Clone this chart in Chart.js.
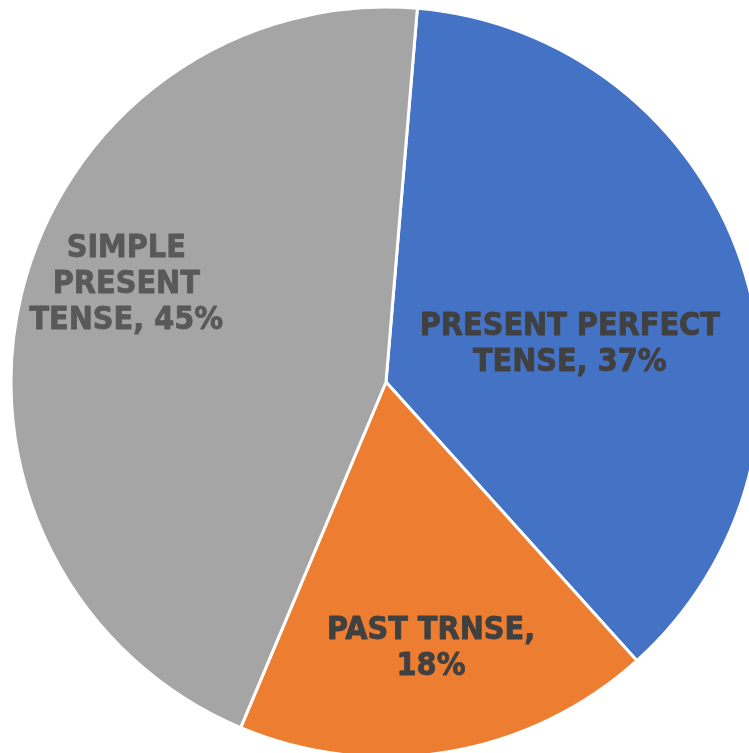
<!DOCTYPE html>
<html>
<head>
<meta charset="utf-8">
<script src="https://cdn.jsdelivr.net/npm/chart.js@4.4.1/dist/chart.umd.min.js"></script>
<style>
  html, body { margin: 0; padding: 0; background: #ffffff; overflow: hidden; width: 749px; height: 753px; }
  #wrap { position: absolute; left: 6px; top: 2px; width: 760px; height: 760px; }
</style>
</head>
<body>
<div id="wrap"><canvas id="pie"></canvas></div>
<script>
const categories = ['PRESENT PERFECT TENSE', 'PAST TRNSE', 'SIMPLE PRESENT TENSE'];
const shares = [37, 18, 45];
const sliceColors = ['#4472C4', '#ED7D31', '#A5A5A5'];
const labelColors = ['#404040', '#404040', '#595959'];

// where each label sits: nudge from the slice's mid angle (deg), distance as a share of the radius, wrap width
const labelSpots = [
  { turn: 7.2, dist: 0.50, wrap: 310 },
  { turn: 0, dist: 0.72, wrap: 220 },
  { turn: 6.8, dist: 0.74, wrap: 210 }
];

const labelFont = 'bold 32px "DejaVu Sans Condensed", "DejaVu Sans", sans-serif';
const lineHeight = 36;

function wrapWords(ctx, text, maxWidth) {
  const words = text.split(' ');
  const lines = [];
  let line = '';
  words.forEach(w => {
    const test = line ? line + ' ' + w : w;
    if (line && ctx.measureText(test).width > maxWidth) {
      lines.push(line);
      line = w;
    } else {
      line = test;
    }
  });
  if (line) lines.push(line);
  return lines;
}

const sliceLabels = {
  id: 'sliceLabels',
  afterDatasetsDraw(chart) {
    const ctx = chart.ctx;
    const meta = chart.getDatasetMeta(0);
    ctx.save();
    ctx.font = labelFont;
    ctx.textAlign = 'center';
    ctx.textBaseline = 'middle';
    ctx.lineWidth = 0.8;
    ctx.lineJoin = 'round';
    meta.data.forEach((arc, i) => {
      const { x, y, startAngle, endAngle, outerRadius } = arc.getProps(['x', 'y', 'startAngle', 'endAngle', 'outerRadius'], true);
      const spot = labelSpots[i];
      const mid = (startAngle + endAngle) / 2 + spot.turn * Math.PI / 180;
      const cx = x + Math.cos(mid) * outerRadius * spot.dist;
      const cy = y + Math.sin(mid) * outerRadius * spot.dist;
      const lines = wrapWords(ctx, categories[i] + ', ' + shares[i] + '%', spot.wrap);
      ctx.fillStyle = labelColors[i];
      ctx.strokeStyle = labelColors[i];
      const top = cy - (lines.length - 1) * lineHeight / 2;
      lines.forEach((l, k) => {
        ctx.fillText(l, cx, top + k * lineHeight);
        ctx.strokeText(l, cx, top + k * lineHeight);
      });
    });
    ctx.restore();
  }
};

new Chart(document.getElementById('pie'), {
  type: 'pie',
  data: {
    labels: categories,
    datasets: [{
      data: shares,
      backgroundColor: sliceColors,
      borderColor: '#ffffff',
      borderWidth: 3
    }]
  },
  options: {
    responsive: true,
    maintainAspectRatio: false,
    animation: false,
    rotation: 4.8,
    radius: 375,
    layout: { padding: 0 },
    plugins: {
      legend: { display: false },
      tooltip: { enabled: false }
    }
  },
  plugins: [sliceLabels]
});
</script>
</body>
</html>
